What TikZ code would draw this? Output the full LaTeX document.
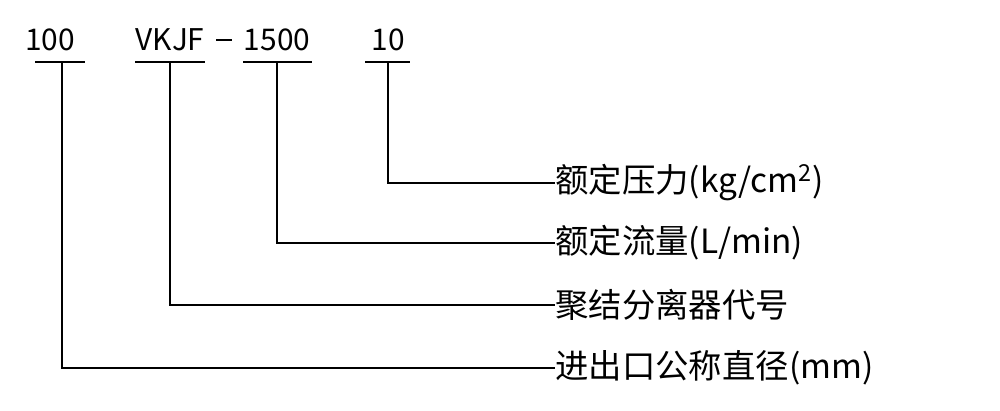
\documentclass[tikz,border=0pt]{standalone}
\usepackage{fontspec}
\setmainfont{Noto Sans CJK SC}
\begin{document}
\begin{tikzpicture}[x=0.02cm,y=-0.02cm,
  lbl/.style={anchor=west,inner sep=0pt,font=\fontsize{19}{20}\selectfont},
  top/.style={inner sep=0pt,font=\fontsize{17}{18}\selectfont},
  ln/.style={line width=0.9pt}]
\useasboundingbox (0,0) rectangle (1000,410);
\node[top] (a) at (50,40) {100};
\node[top] (b) at (170,40) {VKJF};
\coordinate (d1) at (216,40);
\coordinate (d2) at (232,40);
\draw[line width=1.2pt] (d1) -- (d2);
\node[top] (c) at (277,40) {1500};
\node[top] (e) at (388,40) {10};
\draw[ln] (35,62) -- (85,62) (135,62) -- (205,62) (243,62) -- (312,62) (365,62) -- (410,62);
\node[lbl] (l1) at (555,183) {额定压力(kg/cm\textsuperscript{2})};
\node[lbl] (l2) at (555,243) {额定流量(L/min)};
\node[lbl] (l3) at (555,305) {聚结分离器代号};
\node[lbl] (l4) at (555,368) {进出口公称直径(mm)};
\draw[ln] (388,62) |- (l1.west);
\draw[ln] (277,62) |- (l2.west);
\draw[ln] (170,62) |- (l3.west);
\draw[ln] (62,62) |- (l4.west);
\end{tikzpicture}
\end{document}
